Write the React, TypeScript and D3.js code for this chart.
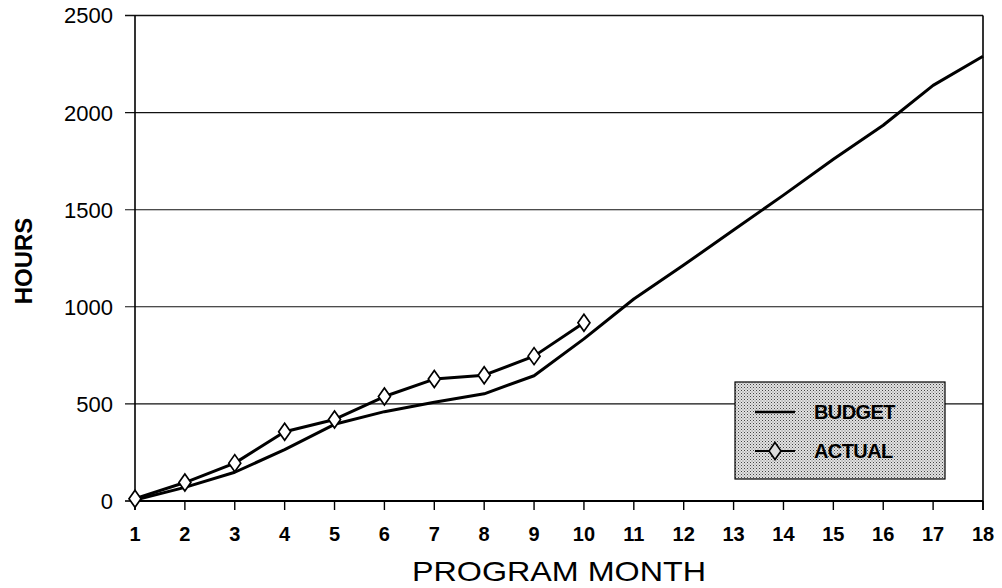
import * as d3 from "d3";
import React from "react";

// Chart data
const months = [1, 2, 3, 4, 5, 6, 7, 8, 9, 10, 11, 12, 13, 14, 15, 16, 17, 18];
const budget = [5, 70, 148, 265, 395, 460, 508, 552, 645, 835, 1040, 1215, 1395, 1575, 1760, 1935, 2140, 2290];
const actual = [12, 95, 195, 357, 420, 538, 628, 648, 746, 918];
const yTicks = [0, 500, 1000, 1500, 2000, 2500];

const width = 1002;
const height = 588;
const left = 135;
const right = 983;
const top = 15.5;
const bottom = 501;

const FONT = "'Liberation Sans', Arial, Helvetica, sans-serif";

const App = () => {
    const svgRef = React.useRef<SVGSVGElement>(null);

    React.useEffect(() => {
        const svg = d3.select(svgRef.current);
        svg.selectAll("*").remove();

        const x = d3.scaleLinear().domain([1, 18]).range([left, right]);
        const y = d3.scaleLinear().domain([0, 2500]).range([bottom, top]);

        // stipple pattern for legend box
        const defs = svg.append("defs");
        const pat = defs.append("pattern")
            .attr("id", "stipple")
            .attr("width", 3)
            .attr("height", 3)
            .attr("patternUnits", "userSpaceOnUse");
        pat.append("rect").attr("width", 3).attr("height", 3).attr("fill", "#e2e2e2");
        pat.append("rect").attr("x", 0).attr("y", 0).attr("width", 1).attr("height", 1).attr("fill", "#444");
        pat.append("rect").attr("x", 1.5).attr("y", 1.5).attr("width", 1).attr("height", 1).attr("fill", "#777");

        // gridlines (incl. top border) with left tick stubs
        svg.append("g")
            .selectAll("line")
            .data(yTicks.slice(1))
            .enter().append("line")
            .attr("x1", left - 10)
            .attr("x2", right)
            .attr("y1", d => y(d))
            .attr("y2", d => y(d))
            .attr("stroke", "#111")
            .attr("stroke-width", d => d === 2500 ? 1.6 : 1.1);

        // y axis
        svg.append("line")
            .attr("x1", left).attr("x2", left)
            .attr("y1", top).attr("y2", bottom + 9)
            .attr("stroke", "#000").attr("stroke-width", 1.6);
        svg.append("line")
            .attr("x1", left - 10).attr("x2", left)
            .attr("y1", y(0)).attr("y2", y(0))
            .attr("stroke", "#000").attr("stroke-width", 1.6);

        // right border
        svg.append("line")
            .attr("x1", right).attr("x2", right)
            .attr("y1", top).attr("y2", bottom + 9)
            .attr("stroke", "#000").attr("stroke-width", 1.6);

        // x axis
        svg.append("line")
            .attr("x1", left).attr("x2", right)
            .attr("y1", bottom).attr("y2", bottom)
            .attr("stroke", "#000").attr("stroke-width", 2);

        svg.append("g")
            .selectAll("line")
            .data(months)
            .enter().append("line")
            .attr("x1", d => x(d)).attr("x2", d => x(d))
            .attr("y1", bottom).attr("y2", bottom + 9)
            .attr("stroke", "#000").attr("stroke-width", 1.4);

        // y tick labels
        svg.append("g")
            .selectAll("text")
            .data(yTicks)
            .enter().append("text")
            .attr("x", 113)
            .attr("y", d => y(d))
            .attr("dy", "0.36em")
            .attr("text-anchor", "end")
            .style("font-family", FONT)
            .style("font-size", "22px")
            .text(d => d);

        // x tick labels
        svg.append("g")
            .selectAll("text")
            .data(months)
            .enter().append("text")
            .attr("x", d => x(d))
            .attr("y", 541)
            .attr("text-anchor", "middle")
            .style("font-family", FONT)
            .style("font-size", "20px")
            .style("font-weight", "bold")
            .text(d => d);

        // axis titles
        svg.append("text")
            .attr("x", 559)
            .attr("y", 581)
            .attr("text-anchor", "middle")
            .attr("textLength", 294)
            .attr("lengthAdjust", "spacingAndGlyphs")
            .style("font-family", FONT)
            .style("font-size", "28px")
            .text("PROGRAM MONTH");

        svg.append("text")
            .attr("transform", "translate(32, 261) rotate(-90)")
            .attr("text-anchor", "middle")
            .style("font-family", FONT)
            .style("font-size", "24px")
            .style("font-weight", "bold")
            .text("HOURS");

        // budget and actual lines
        const line = d3.line<number>()
            .x((d, i) => x(months[i]))
            .y(d => y(d));

        svg.append("path")
            .attr("d", line(budget))
            .attr("fill", "none")
            .attr("stroke", "#000")
            .attr("stroke-width", 3)
            .attr("stroke-linejoin", "round");

        svg.append("path")
            .attr("d", line(actual))
            .attr("fill", "none")
            .attr("stroke", "#000")
            .attr("stroke-width", 3)
            .attr("stroke-linejoin", "round");

        const diamond = (cx: number, cy: number) =>
            `M${cx},${cy - 8.5}L${cx + 6},${cy}L${cx},${cy + 8.5}L${cx - 6},${cy}Z`;

        svg.append("g")
            .selectAll("path")
            .data(actual)
            .enter().append("path")
            .attr("d", (d, i) => diamond(x(months[i]), y(d)))
            .attr("fill", "#fff")
            .attr("stroke", "#000")
            .attr("stroke-width", 1.7);

        // legend
        const lg = svg.append("g");
        lg.append("rect")
            .attr("x", 735).attr("y", 382)
            .attr("width", 210).attr("height", 97)
            .attr("fill", "url(#stipple)")
            .attr("stroke", "#000")
            .attr("stroke-width", 1.2);
        lg.append("line")
            .attr("x1", 755).attr("x2", 795)
            .attr("y1", 412).attr("y2", 412)
            .attr("stroke", "#000").attr("stroke-width", 2.5);
        lg.append("line")
            .attr("x1", 755).attr("x2", 795)
            .attr("y1", 451).attr("y2", 451)
            .attr("stroke", "#000").attr("stroke-width", 2);
        lg.append("path")
            .attr("d", diamond(775, 451))
            .attr("fill", "#ddd")
            .attr("stroke", "#000")
            .attr("stroke-width", 1.6);
        lg.selectAll("text.lbl")
            .data(["BUDGET", "ACTUAL"])
            .enter().append("text")
            .attr("class", "lbl")
            .attr("x", 814)
            .attr("y", (d, i) => 412 + i * 39)
            .attr("dy", "0.36em")
            .style("font-family", FONT)
            .style("font-size", "20px")
            .style("font-weight", "bold")
            .style("letter-spacing", "-0.6px")
            .text(d => d);
    }, []);

    return (
        <svg ref={svgRef} width={width} height={height}
            style={{ position: "absolute", left: 0, top: 0, background: "#fff" }} />
    );
};

export default App;
